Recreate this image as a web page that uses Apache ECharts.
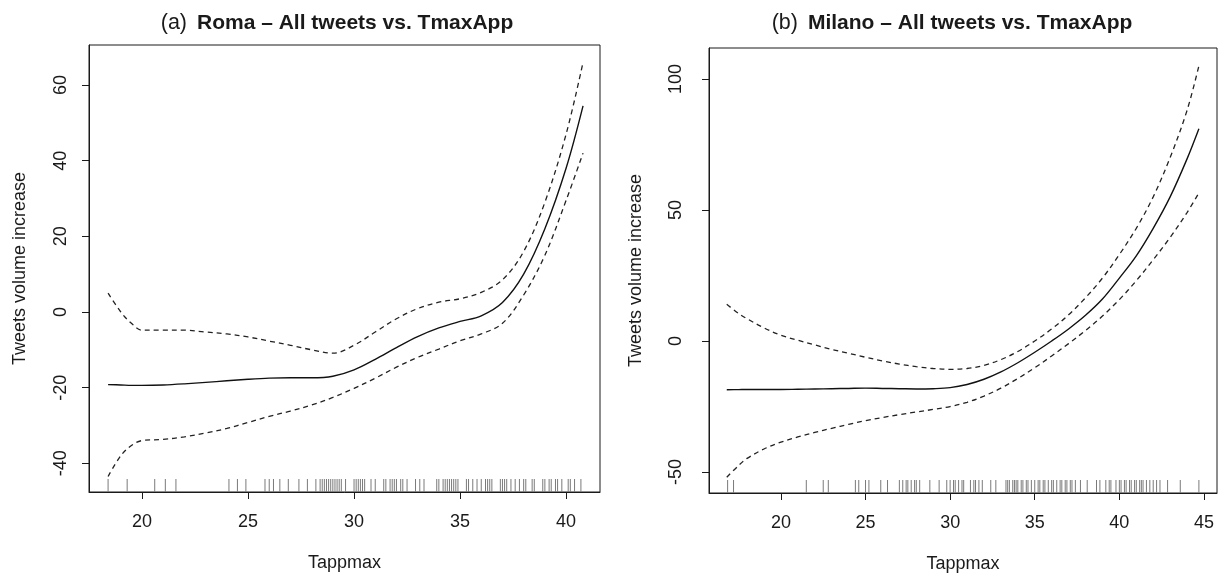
<!DOCTYPE html>
<html>
<head>
<meta charset="utf-8">
<script src="https://cdn.jsdelivr.net/npm/echarts@6/dist/echarts.min.js"></script>
<style>
  html, body { margin: 0; padding: 0; background: #fff; }
  #main { width: 1218px; height: 578px; }
</style>
</head>
<body>
<div id="main"></div>
<script>
// (a) Roma: smooth fit and its confidence band
var romaX     = [18.4, 19, 19.5, 20, 21, 22, 23, 24, 25, 26, 27, 28, 29, 30, 31, 32, 33, 34, 35, 36, 37, 38, 39, 40, 40.8];
var romaFit   = [-19.2, -19.3, -19.4, -19.4, -19.3, -19.0, -18.6, -18.2, -17.8, -17.5, -17.4, -17.4, -17.0, -15.3, -12.5, -9.4, -6.5, -4.2, -2.5, -1.0, 2.5, 10, 22, 38, 54.5];
var romaUpper = [5, 0, -3, -4.8, -4.8, -4.8, -5.3, -5.8, -6.6, -7.7, -8.8, -10, -10.9, -8.8, -5.3, -1.8, 0.9, 2.6, 3.5, 5.2, 8.5, 16, 29, 47, 66];
var romaLower = [-43.5, -38, -35.3, -34, -33.7, -33, -32, -30.8, -29.2, -27.6, -26.2, -24.6, -22.6, -20.2, -17.5, -14.6, -12, -9.8, -7.6, -5.8, -3, 4.5, 15, 29.5, 42];
var romaRug = [18.4, 19.3, 20.6, 21.1, 21.6, 24.1, 24.5, 24.9, 25.8, 26.0, 26.2, 26.5, 26.9, 27.4, 27.8, 28.2,
  28.4, 28.5, 28.6, 28.7, 28.8, 28.9, 29.0, 29.1, 29.2, 29.3, 29.4, 29.6, 30.0, 30.1, 30.2, 30.3, 30.4, 30.5,
  30.8, 31.0, 31.4, 31.5, 31.7, 31.8, 31.9, 32.0, 32.2, 32.3, 32.5, 32.9, 33.1, 33.3, 33.9, 34.0, 34.2, 34.3,
  34.4, 34.5, 34.6, 34.7, 34.8, 34.9, 35.3, 35.4, 35.6, 35.8, 36.0, 36.2, 36.3, 36.4, 36.5, 36.9, 37.0, 37.1,
  37.2, 37.4, 37.6, 37.8, 38.0, 38.1, 38.4, 38.5, 38.9, 39.0, 39.2, 39.3, 39.5, 39.6, 39.8, 40.1, 40.2, 40.4, 40.7];
var romaTicksX = [20, 25, 30, 35, 40];
var romaTicksY = [-40, -20, 0, 20, 40, 60];

// (b) Milano
var milanoX     = [16.8, 17.5, 18, 19, 20, 21, 22, 23, 24, 25, 26, 27, 28, 29, 30, 31, 32, 33, 34, 35, 36, 37, 38, 39, 40, 41, 42, 43, 44, 44.7];
var milanoFit   = [-18.6, -18.55, -18.5, -18.5, -18.5, -18.4, -18.3, -18.2, -18.1, -18.0, -18.1, -18.2, -18.3, -18.2, -17.8, -16.6, -14.6, -11.8, -8.3, -4.3, 0, 4.6, 9.8, 16, 24, 32.5, 43, 55, 69.5, 81];
var milanoUpper = [14, 10.5, 8.5, 5, 2.2, 0.3, -1.5, -3.2, -4.7, -6.2, -7.6, -8.8, -9.8, -10.5, -10.8, -10.5, -9.3, -7.1, -4, 0, 4.6, 10, 16.5, 24, 33, 43, 55, 70, 88, 105];
var milanoLower = [-52, -47.5, -44.8, -41.2, -38.6, -36.6, -34.9, -33.3, -31.8, -30.4, -29.2, -28.1, -27.1, -26.1, -25, -23.4, -21, -18, -14.3, -10.2, -5.7, -1, 4, 9.5, 15.8, 23, 31, 39.5, 49, 56.5];
var milanoRug = [16.85, 17.2, 21.5, 22.5, 22.8, 24.4, 24.6, 25.0, 25.2, 25.9, 26.3, 27.0, 27.2, 27.4, 27.5, 27.7,
  27.9, 28.0, 28.2, 28.8, 29.35, 29.8, 30.0, 30.2, 30.3, 30.5, 30.7, 30.8, 31.2, 31.4, 31.5, 31.7, 31.9, 32.4,
  32.7, 33.3, 33.4, 33.5, 33.7, 33.8, 33.9, 34.0, 34.2, 34.3, 34.5, 34.6, 34.8, 35.0, 35.2, 35.3, 35.5, 35.6,
  35.8, 36.0, 36.1, 36.3, 36.5, 36.6, 36.8, 36.9, 37.1, 37.2, 37.4, 37.7, 38.1, 38.65, 38.85, 39.2, 39.4, 39.5,
  39.8, 40.0, 40.1, 40.3, 40.4, 40.6, 40.7, 40.9, 41.0, 41.2, 41.3, 41.4, 41.6, 41.8, 42.0, 42.2, 42.4, 42.85,
  43.6, 44.7];
var milanoTicksX = [20, 25, 30, 35, 40, 45];
var milanoTicksY = [-50, 0, 50, 100];

var FONT = 'Liberation Sans, Arial, sans-serif';
var INK = '#1a1a1a';

var myChart = echarts.init(document.getElementById('main'));

function pairs(xs, ys) {
  return xs.map(function (x, i) { return [x, ys[i]]; });
}

function xAxisFor(idx, min, max, ticks) {
  return {
    type: 'value', gridIndex: idx, min: min, max: max,
    name: 'Tappmax', nameLocation: 'middle', nameGap: 62,
    nameTextStyle: { fontSize: 18, color: INK, fontFamily: FONT },
    axisLine: { show: true, onZero: false, lineStyle: { color: INK, width: 1 } },
    axisTick: { show: true, length: 7, customValues: ticks, lineStyle: { color: INK } },
    axisLabel: { customValues: ticks, margin: 21, fontSize: 18, color: INK, fontFamily: FONT },
    splitLine: { show: false }
  };
}

function yAxisFor(idx, min, max, ticks, labelMargin, nameGap) {
  return {
    type: 'value', gridIndex: idx, min: min, max: max,
    name: 'Tweets volume increase', nameLocation: 'middle', nameGap: nameGap,
    nameTextStyle: { fontSize: 18, color: INK, fontFamily: FONT },
    axisLine: { show: true, onZero: false, lineStyle: { color: INK, width: 1 } },
    axisTick: { show: true, length: 7, customValues: ticks, lineStyle: { color: INK } },
    axisLabel: { customValues: ticks, rotate: 90, margin: labelMargin, fontSize: 18, color: INK, fontFamily: FONT },
    splitLine: { show: false }
  };
}

function curve(idx, xs, ys, dashed) {
  return {
    type: 'line', xAxisIndex: idx, yAxisIndex: idx,
    data: pairs(xs, ys), smooth: 0.35, symbol: 'none',
    lineStyle: { color: dashed ? '#222' : '#111', width: dashed ? 1.3 : 1.4, type: dashed ? [5, 4] : 'solid' },
    silent: true, z: 3
  };
}

function rug(idx, values, yMin) {
  return {
    type: 'custom', xAxisIndex: idx, yAxisIndex: idx,
    data: values.map(function (v) { return [v, yMin]; }),
    renderItem: function (params, api) {
      var p = api.coord([api.value(0), api.value(1)]);
      return {
        type: 'line',
        shape: { x1: p[0], y1: p[1], x2: p[0], y2: p[1] - 13 },
        style: { stroke: '#7a7a7a', lineWidth: 1 }
      };
    },
    silent: true, z: 2
  };
}

function titleFor(letter, text, cx) {
  return {
    text: '{l|(' + letter + ')}  {b|' + text + '}',
    left: cx, top: 7, textAlign: 'center',
    textStyle: {
      rich: {
        l: { fontSize: 21.5, fontWeight: 'normal', color: INK, fontFamily: FONT },
        b: { fontSize: 21, fontWeight: 'bold', color: INK, fontFamily: FONT }
      }
    }
  };
}

var option = {
  backgroundColor: '#fff',
  animation: false,
  title: [
    titleFor('a', 'Roma \u2013 All tweets vs. TmaxApp', 332),
    titleFor('b', 'Milano \u2013 All tweets vs. TmaxApp', 947)
  ],
  grid: [
    { left: 89, top: 45, width: 511, height: 447, show: true, borderColor: INK, borderWidth: 1 },
    { left: 709, top: 48, width: 508, height: 445, show: true, borderColor: INK, borderWidth: 1 }
  ],
  xAxis: [
    xAxisFor(0, 17.5, 41.6, romaTicksX),
    xAxisFor(1, 15.75, 45.77, milanoTicksX)
  ],
  yAxis: [
    yAxisFor(0, -47.6, 70.6, romaTicksY, 19, 60),
    yAxisFor(1, -58, 111.8, milanoTicksY, 24, 64)
  ],
  series: [
    curve(0, romaX, romaFit, false),
    curve(0, romaX, romaUpper, true),
    curve(0, romaX, romaLower, true),
    rug(0, romaRug, -47.6),
    curve(1, milanoX, milanoFit, false),
    curve(1, milanoX, milanoUpper, true),
    curve(1, milanoX, milanoLower, true),
    rug(1, milanoRug, -58)
  ]
};

myChart.setOption(option);
</script>
</body>
</html>
